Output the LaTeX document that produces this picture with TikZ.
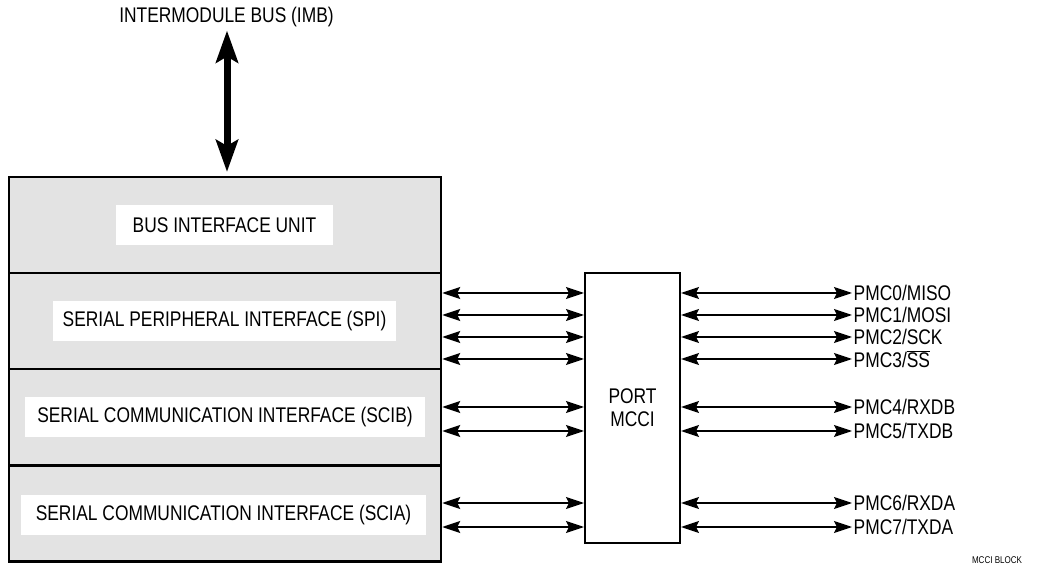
\documentclass[tikz,border=0pt]{standalone}
\usepackage{fontspec}
\setmainfont{Liberation Sans}[FakeStretch=0.82]
\usetikzlibrary{arrows.meta}
\definecolor{blockgray}{HTML}{E3E3E3}
\tikzset{
  section/.style={draw, fill=blockgray, line width=2.5pt, minimum width=432pt, minimum height=96pt, inner sep=0pt},
  label box/.style={fill=white, minimum height=40pt, inner sep=0pt, font=\fontsize{21.2}{23}\selectfont},
  pinlabel/.style={anchor=west, inner sep=1.5pt, font=\fontsize{21.2}{23}\selectfont},
  sig/.style={line width=1.4pt, {Stealth[length=18pt,width=12pt,inset=3pt]}-{Stealth[length=18pt,width=12pt,inset=3pt]}},
  bigarrow/.style={line width=7pt, {Stealth[length=32pt,width=22pt,inset=6pt]}-{Stealth[length=32pt,width=22pt,inset=6pt]}},
}
\begin{document}
\begin{tikzpicture}[x=1pt,y=-1pt]
\useasboundingbox (0,0) rectangle (1045,577);
% main stacked block
\node[section] (biu)  at (225,225) {};
\node[section] (spi)  at (225,321) {};
\node[section] (scib) at (225,417) {};
\node[section] (scia) at (225,513.5) {};
\node[label box, minimum width=217pt] (biut)  at (224.5,225) {BUS INTERFACE UNIT};
\node[label box, minimum width=343pt] (spit)  at (224.5,321.5) {SERIAL PERIPHERAL INTERFACE (SPI)};
\node[label box, minimum width=400pt] (scibt) at (225,417) {SERIAL COMMUNICATION INTERFACE (SCIB)};
\node[label box, minimum width=405pt] (sciat) at (223.5,515) {SERIAL COMMUNICATION INTERFACE (SCIA)};
% bus
\node[inner sep=0pt, font=\fontsize{21.2}{23}\selectfont] (imb) at (226.5,17.5) {INTERMODULE BUS (IMB)};
\draw[bigarrow, shorten <=3pt, shorten >=3.8pt] (imb.south -| 227,0) -- (biu.north -| 227,0);
% port
\node[draw, line width=2pt, minimum width=95pt, minimum height=270pt, inner sep=0pt, align=center,
      font=\fontsize{21.2}{23}\selectfont] (port) at (632.5,408) {PORT\\MCCI};
% pin coordinates
\coordinate (p0) at (852,293);
\coordinate (p1) at (852,315);
\coordinate (p2) at (852,337);
\coordinate (p3) at (852,359);
\coordinate (p4) at (852,407);
\coordinate (p5) at (852,431);
\coordinate (p6) at (852,503);
\coordinate (p7) at (852,527);
% connectors
\foreach \p/\s in {p0/spi,p1/spi,p2/spi,p3/spi,p4/scib,p5/scib,p6/scia,p7/scia}{
  \draw[sig] (\s.east |- \p) -- (port.west |- \p);
  \draw[sig] (port.east |- \p) -- (\p);
}
\node[pinlabel] (l0) at (p0) {PMC0/MISO};
\node[pinlabel] (l1) at (p1) {PMC1/MOSI};
\node[pinlabel] (l2) at (p2) {PMC2/SCK};
\node[pinlabel] (l3) at (p3) {PMC3/$\overline{\mbox{SS}}$};
\node[pinlabel] (l4) at (p4) {PMC4/RXDB};
\node[pinlabel] (l5) at (p5) {PMC5/TXDB};
\node[pinlabel] (l6) at (p6) {PMC6/RXDA};
\node[pinlabel] (l7) at (p7) {PMC7/TXDA};
\node[inner sep=0pt, font=\fontsize{9.8}{10}\selectfont] (cap) at (997,560.5) {MCCI BLOCK};
\end{tikzpicture}
\end{document}
